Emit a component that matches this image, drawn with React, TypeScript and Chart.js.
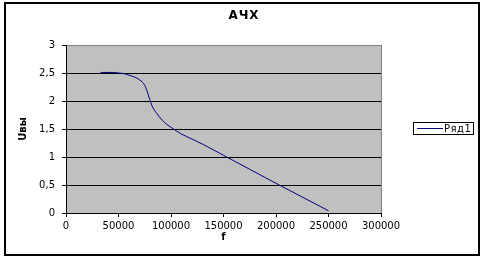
import React, { useEffect, useRef } from "react";
import { Chart, registerables } from "chart.js";

Chart.register(...registerables);

const chartTitle = "АЧХ";
const seriesName = "Ряд1";
const xTitle = "f";
const yTitle = "Uвы";
const frequencies = [33000, 45000, 50000, 55000, 60000, 65000, 70000, 73000, 75000, 77000, 79000, 82000, 86000, 92000, 100000, 110000, 120000, 130000, 150000, 175000, 200000, 225000, 250000];
const amplitudes = [2.51, 2.51, 2.5, 2.49, 2.46, 2.43, 2.38, 2.33, 2.28, 2.19, 2.07, 1.91, 1.79, 1.65, 1.53, 1.41, 1.32, 1.23, 1.03, 0.78, 0.53, 0.285, 0.04];
const xTickMin = 0;
const xTickMax = 300000;
const xTickStep = 50000;
const yTickMin = 0;
const yTickMax = 3;
const yTickStep = 0.5;

const FONT = "'DejaVu Sans', sans-serif";
const LINE_COLOR = "#000080";

const decor = {
  id: "decor",
  beforeDraw(chart: any) {
    const { ctx, chartArea: a } = chart;
    ctx.save();
    ctx.fillStyle = "#ffffff";
    ctx.fillRect(0, 0, chart.width, chart.height);
    ctx.strokeStyle = "#000000";
    ctx.lineWidth = 2;
    ctx.strokeRect(5, 3, 474, 252);
    ctx.fillStyle = "#c0c0c0";
    ctx.fillRect(a.left, a.top, a.right - a.left, a.bottom - a.top);
    ctx.strokeStyle = "#808080";
    ctx.lineWidth = 1;
    ctx.strokeRect(a.left + 0.5, a.top + 0.5, a.right - a.left, a.bottom - a.top);
    // title
    ctx.fillStyle = "#000000";
    ctx.font = `bold 12px ${FONT}`;
    (ctx as any).letterSpacing = "1px";
    ctx.textAlign = "center";
    ctx.textBaseline = "middle";
    ctx.fillText(chartTitle, 244, 16);
    ctx.restore();
  },
  afterDraw(chart: any) {
    const { ctx } = chart;
    const ds = chart.data.datasets[0];
    ctx.save();
    ctx.fillStyle = "#ffffff";
    ctx.fillRect(413, 122, 61, 13);
    ctx.strokeStyle = "#000000";
    ctx.lineWidth = 1;
    ctx.strokeRect(413.5, 122.5, 60, 12);
    ctx.strokeStyle = ds.borderColor;
    ctx.beginPath();
    ctx.moveTo(417, 128.5);
    ctx.lineTo(443, 128.5);
    ctx.stroke();
    ctx.fillStyle = "#000000";
    ctx.font = `10px ${FONT}`;
    (ctx as any).letterSpacing = "0.5px";
    ctx.textAlign = "left";
    ctx.textBaseline = "middle";
    ctx.fillText(ds.label, 444, 129);
    ctx.restore();
  },
};

export default function App() {
  const ref = useRef<HTMLCanvasElement | null>(null);
  useEffect(() => {
    if (!ref.current) return;
    Chart.defaults.font.family = FONT;
    Chart.defaults.font.size = 10;
    Chart.defaults.color = "#000000";
    const chart = new Chart(ref.current, {
      type: "line",
      data: {
        datasets: [
          {
            label: seriesName,
            data: frequencies.map((f, i) => ({ x: f, y: amplitudes[i] })),
            borderColor: LINE_COLOR,
            borderWidth: 1,
            pointRadius: 0,
            fill: false,
            cubicInterpolationMode: "monotone",
          },
        ],
      },
      options: {
        animation: false,
        responsive: false,
        devicePixelRatio: 1,
        layout: { padding: { left: 0, top: 45, right: 103, bottom: 0 } },
        plugins: {
          legend: { display: false },
          title: { display: false },
          tooltip: { enabled: false },
        },
        scales: {
          x: {
            type: "linear",
            min: xTickMin,
            max: xTickMax,
            afterFit: (s: any) => {
              s.height = 45;
            },
            ticks: {
              stepSize: xTickStep,
              padding: 3,
              maxRotation: 0,
              autoSkip: false,
              font: { size: 10, family: FONT },
              color: "#000",
              callback: (v: any) => String(v),
            },
            grid: {
              drawOnChartArea: false,
              drawTicks: true,
              tickLength: 4,
              tickColor: "#000",
              color: "#000",
            },
            border: { color: "#000", width: 1 },
            title: {
              display: true,
              text: xTitle,
              font: { size: 10, weight: "bold", family: FONT },
              color: "#000",
              padding: { top: 0, bottom: 15 },
            },
          },
          y: {
            type: "linear",
            min: yTickMin,
            max: yTickMax,
            afterFit: (s: any) => {
              s.width = 66;
            },
            ticks: {
              stepSize: yTickStep,
              padding: 7,
              font: { size: 10, family: FONT },
              color: "#000",
              callback: (v: any) => String(v).replace(".", ","),
            },
            grid: {
              drawTicks: true,
              tickLength: 4,
              tickColor: "#000",
              color: (c: any) => (c.tick && c.tick.value === yTickMax ? "#808080" : "#000"),
              lineWidth: 1,
            },
            border: { color: "#000", width: 1 },
            title: {
              display: true,
              text: yTitle,
              font: { size: 10, weight: "bold", family: FONT },
              color: "#000",
              padding: { top: 17, bottom: 0 },
            },
          },
        },
      } as any,
      plugins: [decor],
    });
    return () => chart.destroy();
  }, []);
  return (
    <div style={{ position: "fixed", left: 0, top: 0, width: 484, height: 258 }}>
      <canvas ref={ref} width={484} height={258} style={{ width: 484, height: 258, display: "block" }} />
    </div>
  );
}
